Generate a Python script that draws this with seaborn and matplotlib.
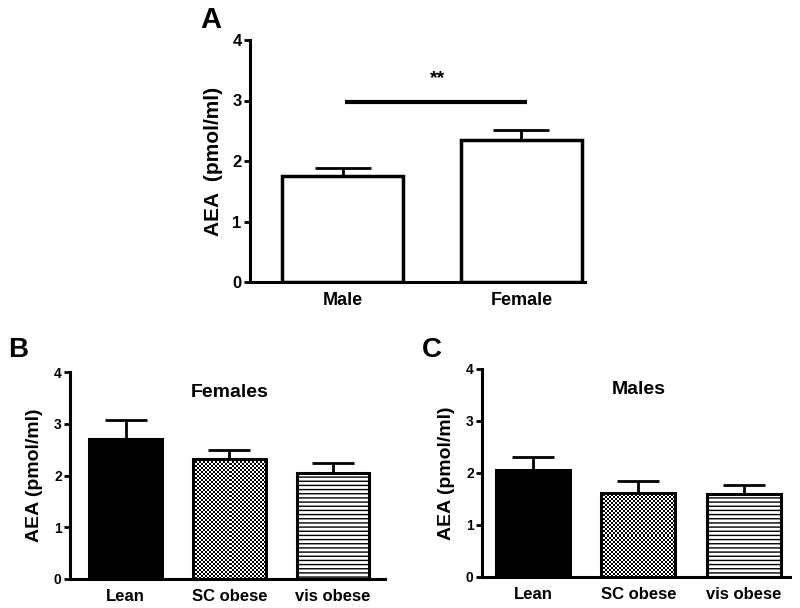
import matplotlib
matplotlib.use("Agg")
import matplotlib.pyplot as plt
import seaborn as sns
import pandas as pd
import numpy as np

# ---- data ----
sex_groups = ["Male", "Female"]
sex_means = [1.75, 2.35]
sex_sem = [0.13, 0.17]

obesity_groups = ["Lean", "SC obese", "vis obese"]
female_means = [2.70, 2.31, 2.05]
female_sem = [0.38, 0.18, 0.20]
male_means = [2.06, 1.62, 1.59]
male_sem = [0.25, 0.22, 0.18]

yticks = [0, 1, 2, 3, 4]
ylabel = "AEA (pmol/ml)"
ylabel_a = "AEA  (pmol/ml)"

sns.set_theme(style="ticks")
plt.rcParams["font.family"] = ["Liberation Sans", "DejaVu Sans"]
plt.rcParams["font.weight"] = "bold"
plt.rcParams["text.color"] = "black"
plt.rcParams["axes.labelcolor"] = "black"
plt.rcParams["xtick.color"] = "black"
plt.rcParams["ytick.color"] = "black"
plt.rcParams["hatch.linewidth"] = 1.0
plt.rcParams["hatch.color"] = "black"

fig = plt.figure(figsize=(8, 6.08), dpi=100)
W, H = 800, 608


def axes_px(l, t, r, b):
    return fig.add_axes([l / W, 1 - b / H, (r - l) / W, (b - t) / H])


def style_ax(ax, tick_fs):
    ax.set_ylim(0, 4)
    ax.set_yticks(yticks)
    ax.set_yticklabels([str(v) for v in yticks], fontsize=tick_fs, fontweight="bold")
    for s in ["top", "right"]:
        ax.spines[s].set_visible(False)
    for s in ["left", "bottom"]:
        ax.spines[s].set_linewidth(2.2)
        ax.spines[s].set_color("black")
    ax.tick_params(axis="y", length=4, width=2, color="black", pad=2, labelcolor="black")
    ax.tick_params(axis="x", length=0, pad=7, labelcolor="black")
    ax.set_facecolor("white")


def checker_fill(ax, patch, cell_px=2.0):
    """Fill a bar patch with a checkerboard image clipped to the bar."""
    bb = patch.get_bbox()
    x0, x1, y0, y1 = bb.x0, bb.x1, bb.y0, bb.y1
    p0 = ax.transData.transform((x0, y0))
    p1 = ax.transData.transform((x1, y1))
    nx = max(2, int(round(abs(p1[0] - p0[0]) / cell_px)))
    ny = max(2, int(round(abs(p1[1] - p0[1]) / cell_px)))
    ii, jj = np.indices((ny, nx))
    img = ((ii + jj) % 2).astype(float)
    im = ax.imshow(img, extent=(x0, x1, y0, y1), cmap="gray", vmin=0, vmax=1,
                   interpolation="nearest", aspect="auto", zorder=patch.get_zorder() + 0.1)
    im.set_clip_path(patch)
    # redraw edge on top
    patch.set_zorder(patch.get_zorder() + 0.2)
    patch.set_facecolor("none")


# ---- Panel A ----
axA = axes_px(250, 40, 585, 282)
dfA = pd.DataFrame({"group": sex_groups, "value": sex_means})
sns.barplot(data=dfA, x="group", y="value", ax=axA, color="white",
            edgecolor="black", linewidth=2.5, width=0.68, errorbar=None)
axA.errorbar(range(len(sex_groups)), sex_means, yerr=[[0] * 2, sex_sem],
             fmt="none", ecolor="black", elinewidth=2, capsize=20, capthick=2)
axA.set_xlim(-0.517, 1.355)
style_ax(axA, 12)
axA.set_xticks(range(len(sex_groups)))
axA.set_xticklabels(sex_groups, fontsize=13, fontweight="bold")
axA.set_xlabel("")
axA.set_ylabel(ylabel_a, fontsize=15, fontweight="bold", labelpad=7)
# significance
axA.plot([0.015, 1.03], [2.97, 2.97], color="black", lw=3, solid_capstyle="butt")
axA.text(0.53, 3.22, "**", ha="center", va="bottom", fontsize=14, fontweight="bold")
fig.text(200 / W, 1 - 20 / H, "A", fontsize=21, fontweight="bold", ha="left", va="center")

# ---- Panels B, C ----
hatches = [None, None, "----"]
facecols = ["black", "white", "white"]


def obesity_panel(ax, means, sems, title, xl):
    df = pd.DataFrame({"group": obesity_groups, "value": means})
    sns.barplot(data=df, x="group", y="value", ax=ax, color="white",
                edgecolor="black", linewidth=2.2, width=0.70, errorbar=None)
    ax.set_xlim(*xl)
    ax.set_ylim(0, 4)
    bars = list(ax.patches)
    for p, h, fc in zip(bars, hatches, facecols):
        p.set_facecolor(fc)
        if h:
            p.set_hatch(h)
    ax.errorbar(range(len(obesity_groups)), means, yerr=[[0] * 3, sems],
                fmt="none", ecolor="black", elinewidth=2, capsize=15, capthick=2)
    checker_fill(ax, bars[1])
    ax.set_xlim(*xl)
    style_ax(ax, 10)
    ax.set_xticks(range(len(obesity_groups)))
    ax.set_xticklabels(obesity_groups, fontsize=12, fontweight="bold")
    ax.set_xlabel("")
    ax.set_ylabel(ylabel, fontsize=14, fontweight="bold", labelpad=8)
    ax.text(1.0, 3.6, title, ha="center", va="center", fontsize=14, fontweight="bold")


axB = axes_px(70, 372, 385, 579)
obesity_panel(axB, female_means, female_sem, "Females", (-0.535, 2.50))
fig.text(8 / W, 1 - 350 / H, "B", fontsize=20, fontweight="bold", ha="left", va="center")

axC = axes_px(482, 369, 790, 577)
obesity_panel(axC, male_means, male_sem, "Males", (-0.483, 2.44))
fig.text(422 / W, 1 - 350 / H, "C", fontsize=20, fontweight="bold", ha="left", va="center")

fig.savefig("out.png", dpi=100, facecolor="white")
